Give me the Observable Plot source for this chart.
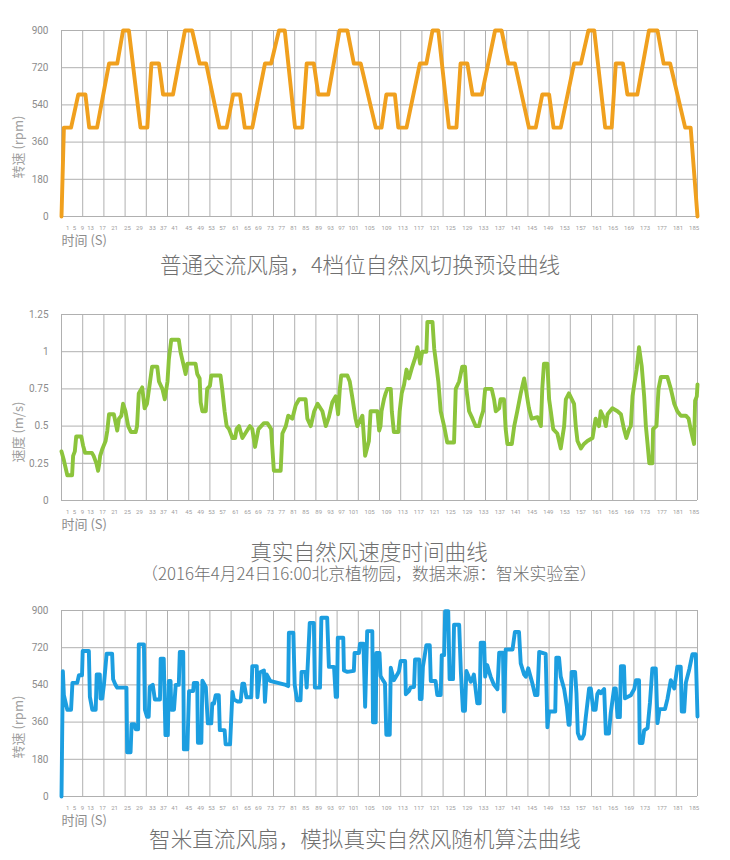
<!DOCTYPE html>
<html><head><meta charset="utf-8">
<script src="https://cdn.jsdelivr.net/npm/d3@7"></script>
<script src="https://cdn.jsdelivr.net/npm/@observablehq/plot@0.6"></script>
<style>
body{margin:0;background:#fff;width:730px;height:860px;position:relative;overflow:hidden}
.panel{position:absolute;left:0;width:730px}
.title{position:absolute;left:0;width:730px;text-align:center;color:#707070;font-family:"Noto Sans CJK SC",sans-serif;font-weight:300;white-space:nowrap;z-index:2}
</style></head><body>
<div id="p1" class="panel" style="top:0px"></div>
<div class="title" style="top:252px;font-size:21.6px;line-height:24px;left:-5px">普通交流风扇，4档位自然风切换预设曲线</div>
<div id="p2" class="panel" style="top:284px"></div>
<div class="title" style="top:540px;font-size:21.6px;line-height:22px;left:4px">真实自然风速度时间曲线</div>
<div class="title" style="top:564px;font-size:16.8px;line-height:18px;left:4px">（2016年4月24日16:00北京植物园，数据来源：智米实验室）</div>
<div id="p3" class="panel" style="top:580px"></div>
<div class="title" style="top:826px;font-size:21.6px;line-height:24px">智米直流风扇，模拟真实自然风随机算法曲线</div>
<script>
// ---------- data ----------
const xDomain = [0, 186];
const gridCount = 30;
// tick labels (1,5,9,...,185) and where the reference places each of them along the time axis
const xTickLabels = d3.range(1, 186, 4);
const xTickPos = [1.8,3.8,6.1,8.5,12.0,15.5,19.3,22.8,26.6,29.8,33.1,37.2,40.7,43.9,47.1,50.9,54.4,57.6,61.1,64.4,67.9,71.4,75.2,78.7,81.9,85.4,90.1,95.1,99.8,104.5,109.1,113.8,118.7,123.4,128.2,132.9,137.6,142.4,147.2,151.9,156.6,161.3,166.0,170.7,175.6,180.3,185.0];
const xLabel = "时间 (S)";

const rpmTicks = [0, 180, 360, 540, 720, 900];
const speedTicks = [0, 0.25, 0.5, 0.75, 1, 1.25];

// 普通交流风扇 4档位预设曲线 (rpm)
const fanT = [0,0.7,2.8,4.9,7.0,8.1,10.4,13.9,16.3,18.0,19.7,23.1,25.1,26.3,28.5,29.7,32.6,36.1,38.2,40.4,42.3,46.2,48.3,50.2,52.2,53.6,55.8,59.5,61.3,63.6,65.3,68.3,70.4,71.7,73.8,75.1,78.0,81.3,83.6,85.5,87.5,91.9,93.6,95.0,97.5,98.5,100.9,104.8,106.7,108.5,110.2,113.3,115.5,116.7,118.7,120.2,122.9,126.8,128.7,130.7,132.6,136.7,138.7,140.6,142.6,143.9,146.0,149.9,151.9,154.1,155.8,159.0,160.9,162.1,164.2,165.5,168.4,171.8,174.3,176.1,178.0,182.4,184.0,186.0];
const fanV = [0,430,430,590,590,430,430,740,740,900,900,430,430,740,740,590,590,900,900,740,740,430,430,590,590,430,430,740,740,900,900,430,430,740,740,590,590,900,900,740,740,430,430,590,590,430,430,740,740,900,900,430,430,740,740,590,590,900,900,740,740,430,430,590,590,430,430,740,740,900,900,430,430,740,740,590,590,900,900,740,740,430,430,0];

// 真实自然风速度 (m/s)
const windT = [0,0.7,1.7,3.1,3.4,3.9,4.3,5.8,6.3,6.9,8.9,9.4,10.2,10.7,11.0,11.3,12.0,12.9,13.4,13.9,15.3,16.3,16.8,17.5,18.0,18.7,19.5,20.3,21.7,22.1,22.6,23.6,24.3,25.0,25.6,26.5,28.0,28.5,29.5,30.2,31.0,31.4,32.1,34.3,34.8,35.6,36.3,36.8,39.2,39.7,40.4,40.7,41.2,42.2,42.6,43.4,43.8,46.5,47.0,47.7,48.3,49.0,50.0,50.8,51.2,51.9,52.9,54.0,55.1,55.8,56.6,57.6,59.2,60.2,61.3,62.1,64.1,64.6,65.6,66.3,67.5,68.5,69.5,71.4,71.9,72.9,73.9,74.9,76.3,77.3,78.2,79.2,80.2,80.9,81.4,81.8,83.6,84.3,85.0,86.0,86.5,88.0,88.8,89.9,90.4,92.4,92.9,93.3,93.6,94.3,94.8,95.3,96.3,96.6,97.2,98.5,98.9,99.5,100.2,100.9,101.6,102.6,103.6,104.1,104.9,105.5,106.7,107.0,108.5,109.0,109.4,110.2,110.9,111.9,112.4,112.8,114.8,115.3,116.3,117.2,118.0,118.4,119.2,120.2,121.1,122.1,122.6,123.3,123.9,125.8,126.5,127.0,128.0,128.4,129.4,129.9,130.4,131.7,132.4,133.3,134.3,135.3,136.0,136.7,137.5,139.2,140.2,140.6,141.1,142.1,142.6,143.1,143.8,145.0,146.0,147.0,147.5,148.4,149.9,150.4,150.9,151.9,152.8,153.8,155.3,156.2,157.2,157.7,158.7,159.2,159.7,161.1,162.6,163.6,164.5,165.2,166.0,166.5,167.0,167.5,168.2,168.9,169.7,170.4,170.9,171.4,171.9,172.8,173.0,174.0,174.6,175.3,177.2,178.2,179.2,180.1,181.1,182.6,183.4,184.0,185.0,185.3,185.8,186.0];
const windV = [0.33,0.27,0.17,0.17,0.30,0.33,0.43,0.43,0.37,0.32,0.32,0.30,0.25,0.20,0.24,0.30,0.35,0.40,0.47,0.58,0.58,0.47,0.55,0.57,0.65,0.60,0.50,0.46,0.46,0.50,0.72,0.76,0.62,0.65,0.75,0.90,0.90,0.80,0.75,0.68,0.80,0.95,1.08,1.08,1.00,0.92,0.85,0.92,0.92,0.85,0.82,0.66,0.60,0.60,0.75,0.77,0.84,0.84,0.75,0.60,0.50,0.48,0.42,0.42,0.48,0.50,0.42,0.46,0.50,0.48,0.36,0.48,0.52,0.52,0.48,0.20,0.20,0.45,0.50,0.57,0.55,0.64,0.68,0.68,0.55,0.50,0.60,0.65,0.60,0.50,0.56,0.66,0.70,0.58,0.75,0.84,0.84,0.80,0.70,0.55,0.50,0.57,0.30,0.40,0.60,0.60,0.47,0.50,0.60,0.68,0.72,0.75,0.75,0.60,0.46,0.46,0.60,0.72,0.78,0.88,0.82,0.90,0.97,1.03,0.92,1.00,1.00,1.20,1.20,1.02,0.95,0.80,0.60,0.50,0.44,0.39,0.39,0.75,0.80,0.90,0.90,0.75,0.60,0.55,0.50,0.50,0.55,0.60,0.75,0.75,0.68,0.60,0.62,0.68,0.68,0.48,0.38,0.38,0.50,0.60,0.72,0.82,0.72,0.62,0.55,0.56,0.50,0.75,0.92,0.92,0.68,0.60,0.48,0.45,0.35,0.50,0.68,0.72,0.65,0.50,0.40,0.35,0.38,0.40,0.42,0.55,0.50,0.60,0.55,0.50,0.58,0.62,0.60,0.58,0.48,0.42,0.48,0.50,0.70,0.78,0.88,1.03,0.90,0.70,0.50,0.38,0.25,0.25,0.48,0.50,0.75,0.83,0.83,0.75,0.65,0.60,0.57,0.57,0.55,0.48,0.38,0.67,0.70,0.78];

// 智米直流风扇 随机算法曲线 (rpm)
const smartT = [0,0.4,0.7,1.7,2.8,3.2,4.6,5.1,6.0,6.2,8.0,8.3,9.0,10.0,10.3,11.2,11.4,11.9,12.4,13.2,14.8,15.1,15.8,16.3,19.0,19.2,20.2,20.5,21.3,21.7,22.4,22.6,24.1,24.4,25.0,25.5,25.8,26.7,27.3,28.8,29.0,29.9,30.4,31.1,31.4,31.9,32.1,32.9,33.4,34.3,34.6,35.6,35.8,36.8,37.3,38.5,38.7,39.7,39.9,40.9,41.2,42.2,42.8,43.8,44.1,44.6,45.1,46.0,46.3,47.7,48.0,49.3,50.0,50.4,51.4,52.4,52.9,53.4,54.1,55.5,55.8,57.1,57.3,58.0,59.2,59.5,60.0,61.0,62.1,65.6,66.3,66.5,67.8,68.2,68.9,69.9,70.2,71.4,71.7,72.6,73.8,74.1,75.6,76.0,77.7,78.2,79.7,80.2,80.6,80.8,82.4,82.6,83.6,85.5,85.7,87.0,87.3,88.3,88.8,89.4,90.9,91.1,91.9,92.1,93.0,93.3,94.0,94.6,95.0,96.0,96.3,97.2,98.2,98.7,99.2,100.5,100.7,101.6,102.1,103.1,103.4,104.6,104.8,105.3,105.7,106.7,107.7,108.0,109.4,109.9,110.9,111.2,111.9,112.2,113.1,113.5,114.5,114.8,116.3,116.8,117.4,118.0,118.4,119.7,120.2,120.6,121.6,122.3,122.6,123.6,123.9,124.5,125.5,126.5,127.5,128.0,129.1,129.4,129.9,131.9,132.6,133.8,134.3,135.3,135.8,136.5,137.7,138.5,139.2,139.7,141.6,142.1,142.6,144.4,144.7,145.5,146.0,147.0,147.8,148.3,148.6,149.2,150.2,150.6,151.0,151.6,152.2,152.8,153.3,154.3,154.8,155.5,156.2,156.7,157.2,157.7,158.7,159.2,160.1,160.6,161.6,162.1,162.6,163.3,163.6,164.5,164.8,166.5,167.5,168.0,168.9,169.1,169.9,170.4,171.4,172.1,172.8,173.8,174.3,174.9,176.5,177.2,178.2,179.2,180.1,181.1,181.4,182.1,182.6,183.6,184.5,185.5,186.0];
const smartV = [0,606,490,420,420,550,550,587,587,704,704,482,420,420,591,591,474,474,540,691,691,567,540,527,527,214,214,350,350,325,325,736,736,420,386,386,530,540,469,469,667,667,297,297,559,559,420,420,540,540,699,699,228,228,510,510,550,550,260,260,560,530,354,354,450,450,490,490,321,321,252,252,506,470,460,460,546,546,480,480,631,631,480,600,610,458,591,560,555,540,534,792,792,540,466,466,603,603,527,840,840,527,527,865,865,627,627,482,482,768,768,610,603,608,694,694,739,739,434,800,800,359,359,695,695,583,563,548,299,299,623,563,590,607,656,656,495,510,528,530,663,663,472,472,628,732,732,559,559,491,491,684,684,897,897,568,568,831,831,603,415,415,607,555,570,590,451,451,744,744,580,636,580,540,519,696,696,411,711,711,796,796,644,590,580,620,548,491,491,700,690,335,411,411,672,672,580,520,435,347,347,603,603,500,307,280,280,300,380,523,523,420,420,496,510,500,520,304,304,400,523,523,384,384,631,631,475,490,520,563,563,259,259,320,331,455,620,620,355,423,423,471,563,523,628,628,411,411,551,616,688,688,387];

// ---------- drawing ----------
const gridTicks = d3.range(gridCount + 1).map(i => xDomain[0] + i * (xDomain[1] - xDomain[0]) / gridCount);

function panel({t, v, yTicks, color, yLabel}) {
  const data = t.map((d, i) => ({t: d, v: v[i]}));
  return Plot.plot({
    width: 730, height: 250,
    marginTop: 30, marginBottom: 34, marginLeft: 61, marginRight: 33,
    style: {background: "transparent", fontFamily: "Roboto, sans-serif", overflow: "visible"},
    x: {domain: xDomain, axis: null, label: null},
    y: {domain: [yTicks[0], yTicks[yTicks.length - 1]], axis: null, label: null},
    marks: [
      Plot.gridX(gridTicks, {stroke: "#b0b0b0", strokeOpacity: 1, strokeWidth: 1}),
      Plot.gridY(yTicks, {stroke: "#b0b0b0", strokeOpacity: 1, strokeWidth: 1}),
      Plot.axisY(yTicks, {tickSize: 0, tickPadding: 13, fontSize: 10, color: "#8c8c8c", label: null, tickFormat: d => String(d)}),
      Plot.axisX(xTickPos, {tickSize: 0, tickPadding: 9, fontSize: 6, color: "#a0a0a0", label: null, tickFormat: (d, i) => String(xTickLabels[i])}),
      Plot.line(data, {x: "t", y: "v", stroke: color, strokeWidth: 3.9, strokeLinejoin: "round", strokeLinecap: "round"}),
      Plot.text([xLabel], {frameAnchor: "bottom-left", dy: 28, textAnchor: "start", fontSize: 13, fill: "#8c8c8c", fontFamily: "Noto Sans CJK SC"}),
      Plot.text([yLabel], {frameAnchor: "bottom-left", dx: -39, dy: -38, rotate: -90, fontSize: 13, fill: "#a0a0a0", fontFamily: "Noto Sans CJK SC"})
    ]
  });
}

document.getElementById("p1").append(panel({t: fanT, v: fanV, yTicks: rpmTicks, color: "#f0a01e", yLabel: "转速 (rpm)"}));
document.getElementById("p2").append(panel({t: windT, v: windV, yTicks: speedTicks, color: "#8cc43c", yLabel: "速度 (m/s)"}));
document.getElementById("p3").append(panel({t: smartT, v: smartV, yTicks: rpmTicks, color: "#1c9ee0", yLabel: "转速 (rpm)"}));
</script>
</body></html>
